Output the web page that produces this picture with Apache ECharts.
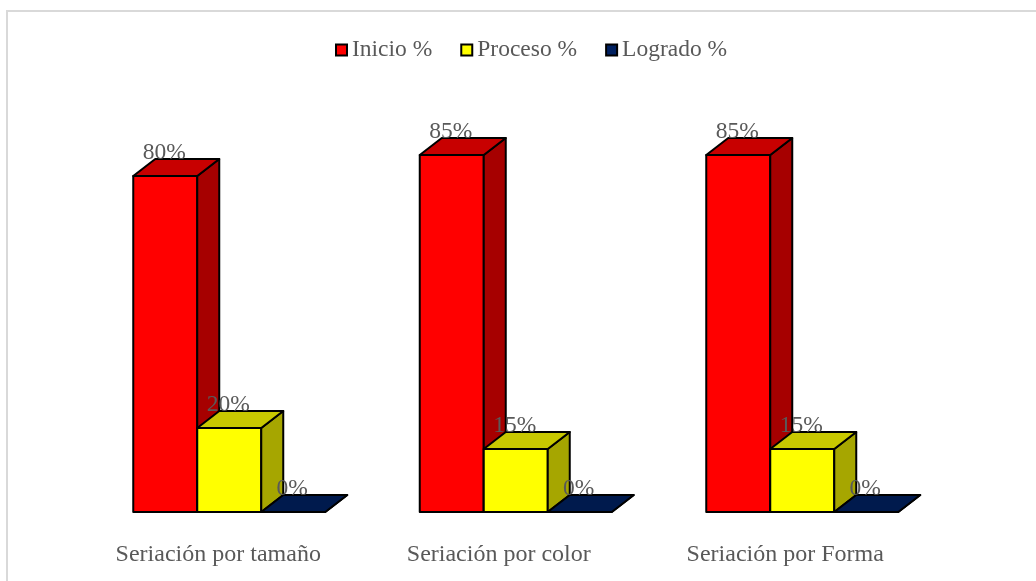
<!DOCTYPE html>
<html>
<head>
<meta charset="utf-8">
<style>html,body{margin:0;padding:0;background:#fff}#chart{width:1036px;height:581px}</style>
<script src="https://cdn.jsdelivr.net/npm/echarts@6/dist/echarts.min.js"></script>
</head>
<body>
<div id="chart"></div>
<script>
const categories = ['Seriación por tamaño', 'Seriación por color', 'Seriación por Forma'];
const inicio = [80, 85, 85];
const proceso = [20, 15, 15];
const logrado = [0, 0, 0];
const seriesNames = ['Inicio %', 'Proceso %', 'Logrado %'];
const frontColors = ['#ff0000', '#ffff00', '#002060'];
const sideColors = ['#a60000', '#a6a600', '#001340'];
const topColors = ['#c80000', '#c8c800', '#001a4d'];

const FONT = '"Liberation Serif", "Times New Roman", serif';
const TEXT = '#595959';
const BAR_SHARE = 64 / 286.5;   // bar width as a share of the category band
const DEPTH_X = 22, DEPTH_Y = 17;

// Extruded column: front, side and top faces, plus the percentage above it.
function columnRenderer(seriesIndex) {
  return function (params, api) {
    const base = api.coord([api.value(0), 0]);
    const top = api.coord([api.value(0), api.value(1)]);
    const w = api.size([1, 0])[0] * BAR_SHARE;
    const x0 = base[0] + DEPTH_X / 2 - 1.5 * w + seriesIndex * w;
    const x1 = x0 + w;
    const y0 = base[1], y1 = top[1];
    const line = { stroke: '#000', lineWidth: 2, lineJoin: 'round' };
    const face = (pts, fill) => ({
      type: 'polygon',
      shape: { points: pts },
      style: Object.assign({ fill }, line)
    });
    const children = [];
    if (y0 - y1 > 0) {
      children.push(face([[x0, y0], [x1, y0], [x1, y1], [x0, y1]], frontColors[seriesIndex]));
    }
    children.push(face([[x1, y0], [x1 + DEPTH_X, y0 - DEPTH_Y], [x1 + DEPTH_X, y1 - DEPTH_Y], [x1, y1]], sideColors[seriesIndex]));
    children.push(face([[x0, y1], [x0 + DEPTH_X, y1 - DEPTH_Y], [x1 + DEPTH_X, y1 - DEPTH_Y], [x1, y1]], topColors[seriesIndex]));
    children.push({
      type: 'text',
      style: {
        x: (x0 + x1) / 2 - 1,
        y: y1 - DEPTH_Y + 6,
        text: api.value(1) + '%',
        align: 'center',
        verticalAlign: 'bottom',
        fill: TEXT,
        font: '23.5px ' + FONT
      }
    });
    return { type: 'group', children };
  };
}

const makeSeries = (values, i) => ({
  type: 'custom',
  name: seriesNames[i],
  coordinateSystem: 'cartesian2d',
  renderItem: columnRenderer(i),
  encode: { x: 0, y: 1 },
  itemStyle: { color: frontColors[i], borderColor: '#000', borderWidth: 2 },
  data: categories.map((_, k) => [k, values[k]]),
  z: 2
});

const chart = echarts.init(document.getElementById('chart'), null, { renderer: 'canvas' });
chart.setOption({
  animation: false,
  backgroundColor: '#fff',
  graphic: [{
    type: 'polyline',
    silent: true,
    shape: { points: [[7, 581], [7, 11], [1036, 11]] },
    style: { stroke: '#d9d9d9', lineWidth: 2, fill: null }
  }],
  legend: {
    data: seriesNames.map((name, i) => ({
      name,
      icon: 'rect',
      itemStyle: { color: frontColors[i], borderColor: '#000', borderWidth: 2 }
    })),
    left: 330,
    top: 33,
    itemWidth: 11,
    itemHeight: 11,
    itemGap: 28,
    textStyle: { fontFamily: FONT, fontSize: 23.5, color: TEXT, padding: 0 }
  },
  grid: { left: 75, right: 101.5, top: 92, bottom: 69 },
  xAxis: {
    type: 'category',
    data: [
      categories[0],
      { value: categories[1], textStyle: { padding: [0, 12, 0, 0] } },
      { value: categories[2], textStyle: { padding: [0, 12, 0, 0] } }
    ],
    axisLine: { show: false },
    axisTick: { show: false },
    axisLabel: { interval: 0, margin: 31, fontFamily: FONT, fontSize: 24, color: TEXT }
  },
  yAxis: { type: 'value', min: 0, max: 100, show: false, splitLine: { show: false } },
  series: [makeSeries(inicio, 0), makeSeries(proceso, 1), makeSeries(logrado, 2)]
});
</script>
</body>
</html>
